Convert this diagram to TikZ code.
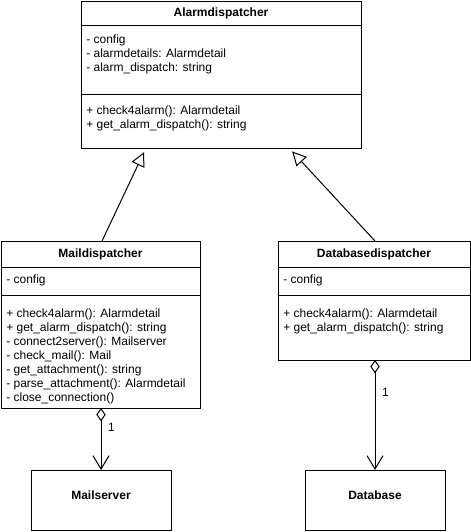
\documentclass[tikz,border=0pt]{standalone}
\usepackage{fontspec}
\setmainfont{Liberation Sans}
\usetikzlibrary{arrows.meta,calc}
\begin{document}
\begin{tikzpicture}[x=0.75pt,y=-0.75pt,
 box/.style={draw, line width=0.75pt, anchor=north west, inner sep=0pt, outer sep=0pt},
 ttl/.style={font=\fontsize{9}{10.5}\selectfont\bfseries, inner sep=0pt},
 txt/.style={font=\fontsize{9}{10.5}\selectfont, align=left, anchor=west, inner sep=0pt},
 sep/.style={line width=0.75pt},
 inherit/.style={line width=0.75pt, -{Triangle[open,length=10.5pt,width=10.5pt]}, shorten >=3.5pt},
 agg/.style={line width=0.75pt, {Diamond[open,length=10pt,width=7pt]}-{Straight Barb[length=10pt,width=12pt]}},
 mult/.style={font=\fontsize{9}{10.5}\selectfont, inner sep=0pt}]
\fill[white] (0,0) rectangle (471,532);
\useasboundingbox (0,0) rectangle (471,532);

% Alarmdispatcher
\node[box, minimum width=280*0.75pt, minimum height=147*0.75pt] (ad) at (81,1) {};
\draw[sep] ($(ad.north west)+(0,24)$) -- ($(ad.north east)+(0,24)$);
\draw[sep] ($(ad.north west)+(0,93)$) -- ($(ad.north east)+(0,93)$);
\node[ttl] (adt) at (221,13) {Alarmdispatcher};
\node[txt] (ada) at (86,54) {- config\\- alarmdetails: Alarmdetail\\- alarm\_dispatch: string};
\node[txt] (adm) at (86,118.5) {+ check4alarm(): Alarmdetail\\+ get\_alarm\_dispatch(): string};

% Maildispatcher
\node[box, minimum width=199*0.75pt, minimum height=167*0.75pt] (md) at (1,241) {};
\draw[sep] ($(md.north west)+(0,26)$) -- ($(md.north east)+(0,26)$);
\draw[sep] ($(md.north west)+(0,54)$) -- ($(md.north east)+(0,54)$);
\node[ttl] (mdt) at (100.5,254) {Maildispatcher};
\node[txt] (mda) at (6,280) {- config};
\node[txt] (mdm) at (6,356) {+ check4alarm(): Alarmdetail\\+ get\_alarm\_dispatch(): string\\- connect2server(): Mailserver\\- check\_mail(): Mail\\- get\_attachment(): string\\- parse\_attachment(): Alarmdetail\\- close\_connection()};

% Databasedispatcher
\node[box, minimum width=192*0.75pt, minimum height=119*0.75pt] (dd) at (278,241) {};
\draw[sep] ($(dd.north west)+(0,26)$) -- ($(dd.north east)+(0,26)$);
\draw[sep] ($(dd.north west)+(0,54)$) -- ($(dd.north east)+(0,54)$);
\node[ttl] (ddt) at (374,254) {Databasedispatcher};
\node[txt] (dda) at (283,280) {- config};
\node[txt] (ddm) at (283,321) {+ check4alarm(): Alarmdetail\\+ get\_alarm\_dispatch(): string};

% Mailserver / Database
\node[box, minimum width=140*0.75pt, minimum height=60*0.75pt] (ms) at (31,470) {};
\node[ttl] (mst) at (101,495) {Mailserver};
\node[box, minimum width=140*0.75pt, minimum height=60*0.75pt] (db) at (305,470) {};
\node[ttl] (dbt) at (375,495) {Database};

% Inheritance
\draw[inherit] ($(md.north)+(1.5,0)$) -- ($(ad.south west)+(65,0)$);
\draw[inherit] ($(dd.north)+(1,0)$) -- ($(ad.south west)+(208,0)$);

% Aggregations
\draw[agg] (md.south -| ms.north) -- (ms.north) node[mult, pos=0.31, right=5pt] {1};
\draw[agg] (dd.south -| db.north) -- (db.north) node[mult, pos=0.29, right=5pt] {1};
\end{tikzpicture}
\end{document}
